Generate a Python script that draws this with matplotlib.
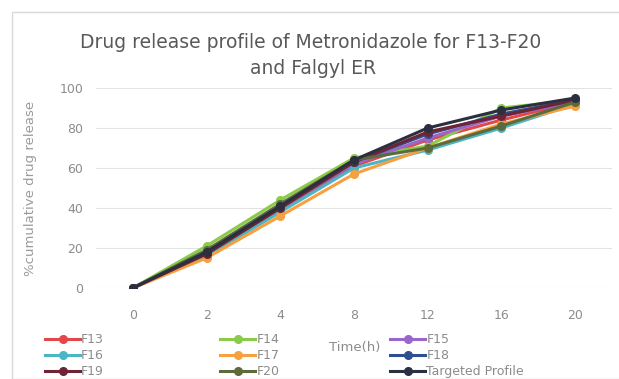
import matplotlib.pyplot as plt
from matplotlib.patches import Rectangle

# sampling times (h), plotted as equally spaced categories
times = ["0", "2", "4", "8", "12", "16", "20"]

f13 = [0, 17, 39, 61, 74, 84, 93]
f14 = [0, 21, 44, 65, 71, 90, 94]
f15 = [0, 18, 40, 62, 75, 86, 93]
f16 = [0, 16, 38, 60, 69, 80, 92]
f17 = [0, 15, 36, 57, 70, 82, 91]
f18 = [0, 18, 41, 63, 77, 87, 94]
f19 = [0, 17, 40, 63, 78, 86, 94]
f20 = [0, 19, 42, 64, 70, 81, 93]
targeted = [0, 18, 41, 64, 80, 89, 95]

names = ["F13", "F14", "F15", "F16", "F17", "F18", "F19", "F20", "Targeted Profile"]
series = [f13, f14, f15, f16, f17, f18, f19, f20, targeted]
colors = ["#E0484A", "#8CCB4A", "#9966CC", "#4BB5C6", "#F7A040",
          "#2F4F8F", "#6E2434", "#5C6B3C", "#2B3040"]

W, H = 619, 379
fig = plt.figure(figsize=(W/100, H/100), dpi=100)
fig.patches.append(Rectangle((12/W, 0), 1.0, 1 - 12/H, transform=fig.transFigure,
                             fill=False, edgecolor="#D9D9D9", linewidth=1))
ax = fig.add_axes([96/W, 1 - 288/H, (612 - 96)/W, 200/H])

x = list(range(len(times)))
handles = []
for name, vals, c in zip(names, series, colors):
    h, = ax.plot(x, vals, color=c, marker="o", markersize=5.5, linewidth=2.2, label=name)
    handles.append(h)

ax.set_xlim(-0.5, len(times) - 0.5)
ax.set_ylim(0, 100)
ax.set_yticks([0, 20, 40, 60, 80, 100])
ax.set_xticks(x)
ax.set_xticklabels(times)
ax.grid(axis="y", color="#E3E3E3", linewidth=0.8)
ax.set_axisbelow(True)
for s in ax.spines.values():
    s.set_visible(False)
ax.tick_params(length=0, colors="#8C8C8C", labelsize=9)
ax.tick_params(axis="x", pad=15)
ax.tick_params(axis="y", pad=9)

ax.set_ylabel("%cumulative drug release", color="#9A9A9A", fontsize=9.5)
ax.yaxis.set_label_coords(-59/516, 0.5)
fig.text(355/W, 1 - 347/H, "Time(h)", ha="center", va="center", color="#8C8C8C", fontsize=9.5)

fig.text(311/W, 1 - 42/H, "Drug release profile of Metronidazole for F13-F20",
         ha="center", va="center", color="#595959", fontsize=13.5)
fig.text(313/W, 1 - 69/H, "and Falgyl ER",
         ha="center", va="center", color="#595959", fontsize=13.5)

# legend laid out as three columns, each placed where Excel put it
col_x = [45, 220, 390]
for k in range(3):
    idx = [k, k + 3, k + 6]
    fig.legend([handles[i] for i in idx], [names[i] for i in idx],
               loc="upper left", bbox_to_anchor=(col_x[k]/W, 1 - 333/H), frameon=False,
               fontsize=9, labelcolor="#8C8C8C", handlelength=2.8, handletextpad=0.1,
               labelspacing=0.25, borderpad=0, borderaxespad=0)

fig.savefig("out.png", dpi=100)
